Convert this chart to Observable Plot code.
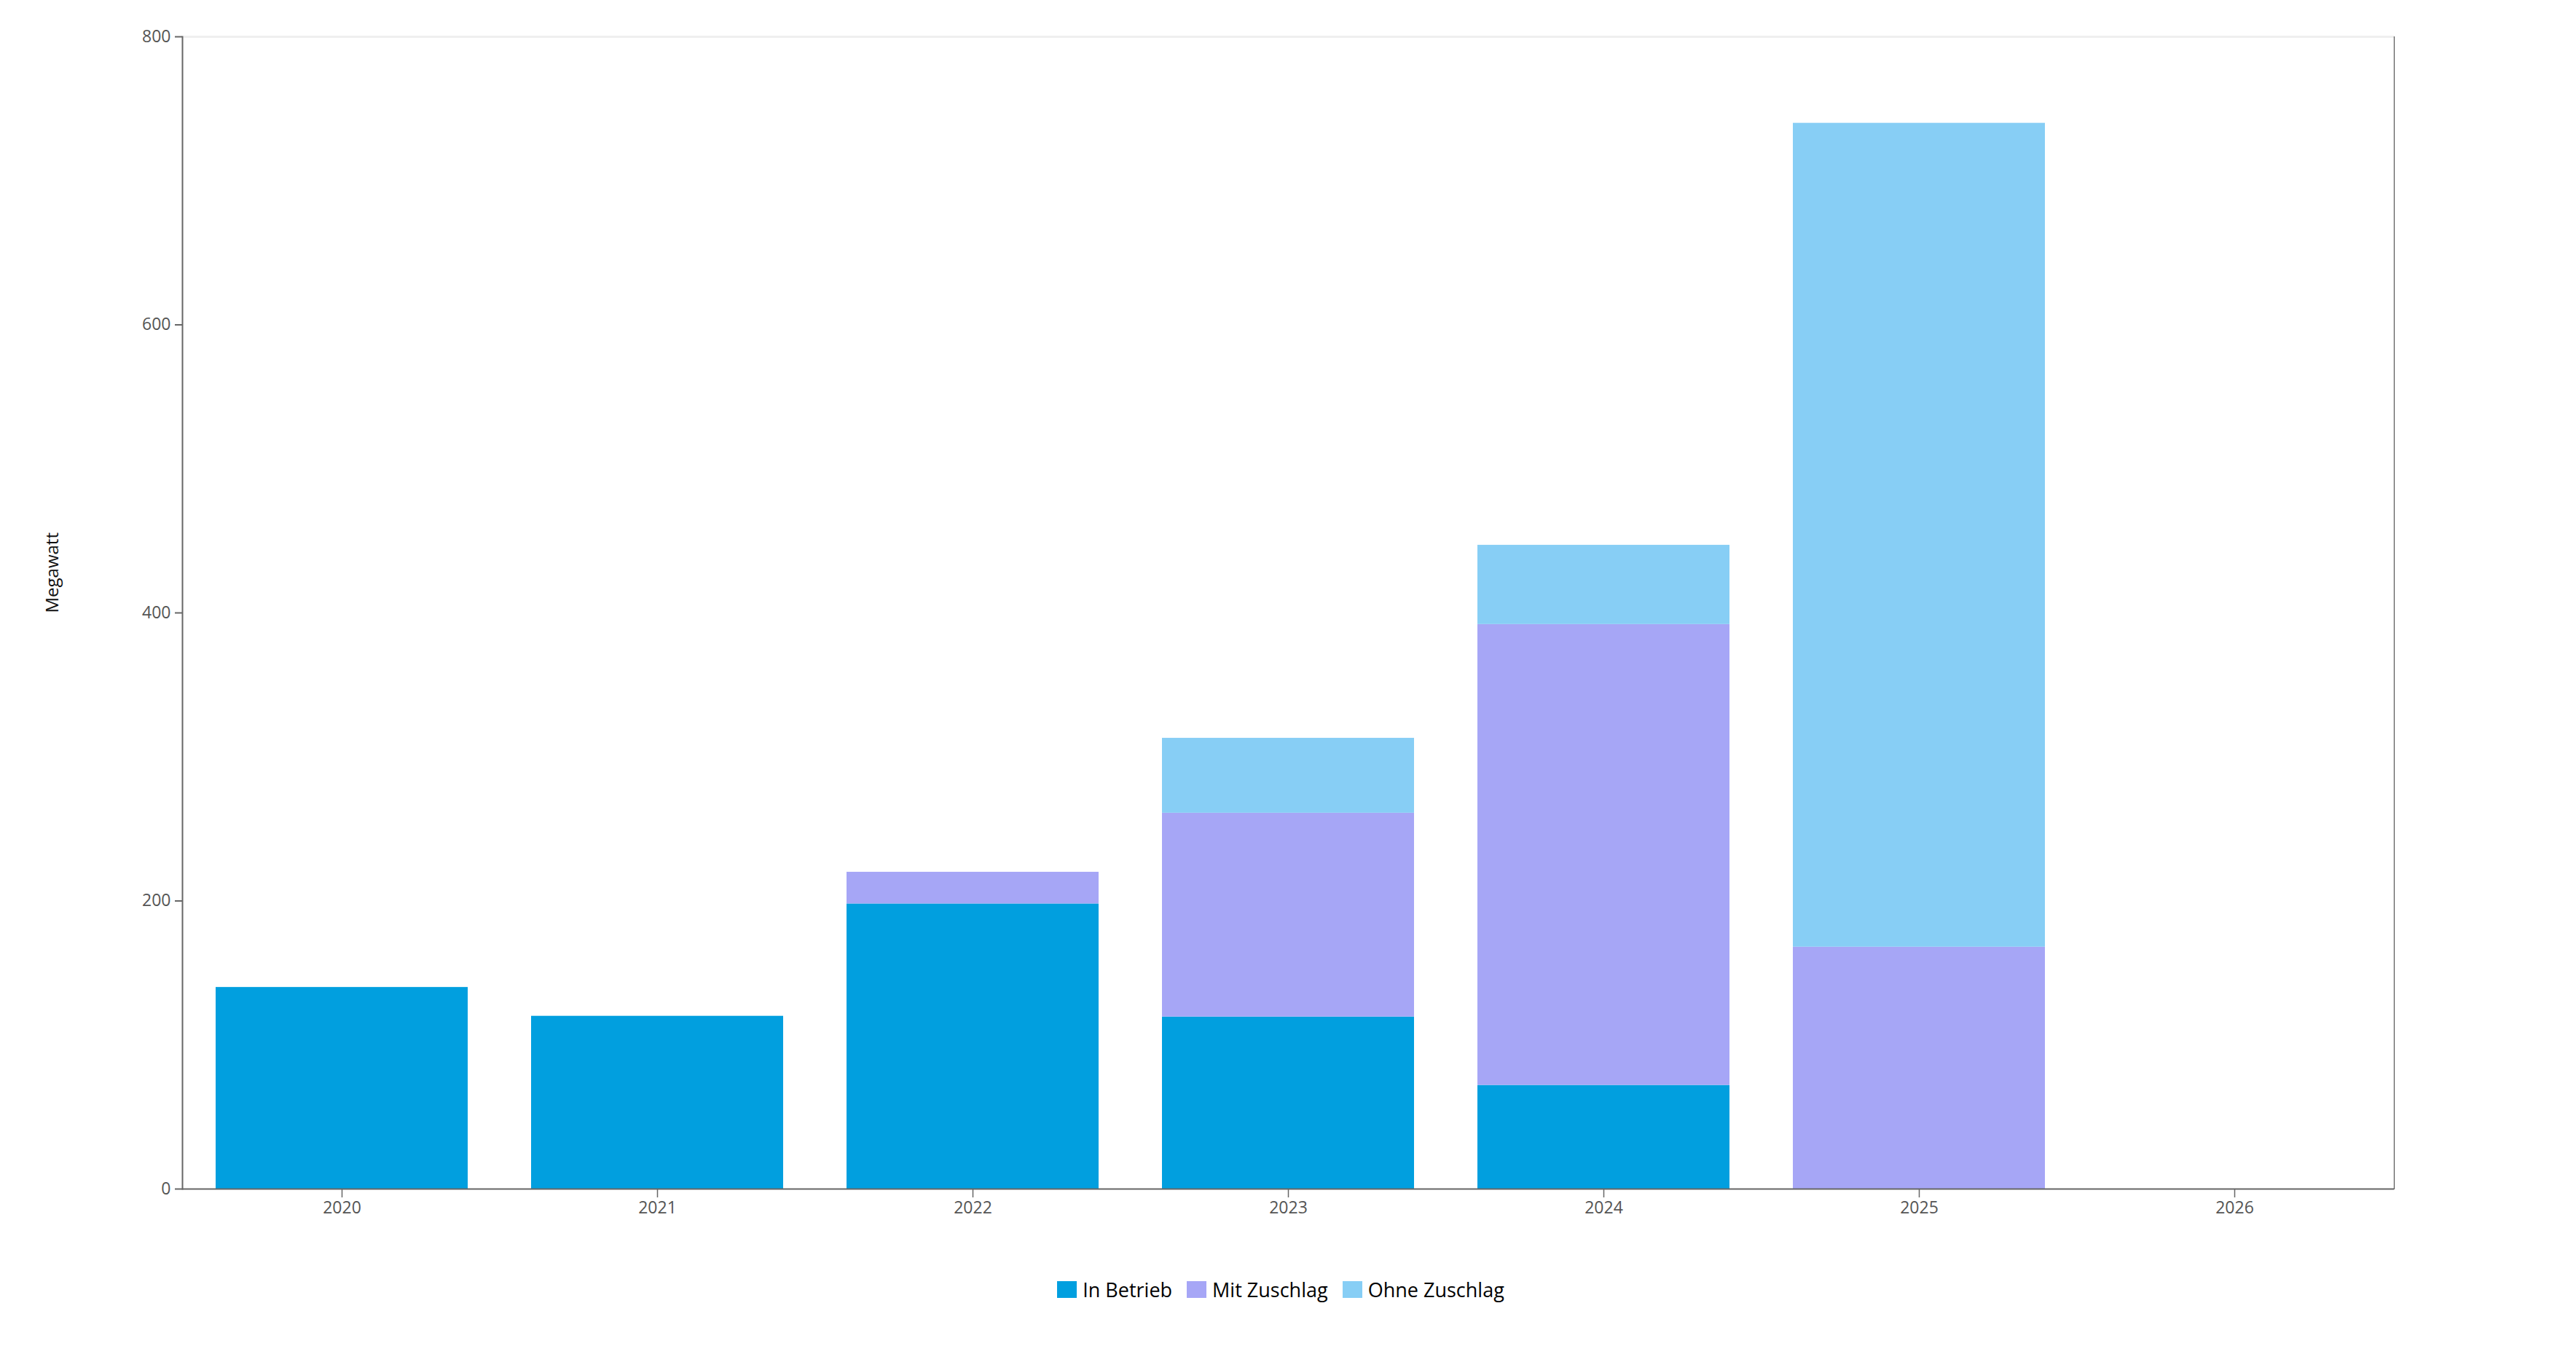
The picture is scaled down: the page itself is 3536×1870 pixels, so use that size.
<!DOCTYPE html>
<html>
<head>
<meta charset="utf-8">
<script src="https://cdn.jsdelivr.net/npm/d3@7"></script>
<script src="https://cdn.jsdelivr.net/npm/@observablehq/plot@0.6"></script>
<style>
  html, body { margin: 0; padding: 0; background: #fff; }
  #wrap { position: relative; width: 3536px; height: 1870px; font-family: "Segoe UI", "Open Sans", sans-serif; }
  #legend { position: absolute; left: 0; top: 1752px; width: 3536px; display: flex; justify-content: center; }
  .lg-swatches-wrap { justify-content: center; }
  .lg-swatch { margin-right: 20px !important; font-size: 27px; color: #000; font-weight: 400; }
  .lg-swatch > svg { margin-right: 8px !important; }
</style>
</head>
<body>
<div id="wrap"><div id="chart"></div><div id="legend"></div></div>
<script>
const years = ["2020", "2021", "2022", "2023", "2024", "2025", "2026"];
const seriesNames = ["In Betrieb", "Mit Zuschlag", "Ohne Zuschlag"];
const seriesColors = ["#019fdf", "#a6a6f6", "#87cef5"];
const inBetrieb    = [140, 120, 198, 119.5, 72, 0, 0];
const mitZuschlag  = [0, 0, 22, 141.5, 320, 168, 0];
const ohneZuschlag = [0, 0, 0, 52, 55, 572, 0];
const yTicks = [0, 200, 400, 600, 800];
const yLabel = "Megawatt";

const seriesValues = [inBetrieb, mitZuschlag, ohneZuschlag];
const data = [];
years.forEach((yr, i) => {
  seriesNames.forEach((s, j) => {
    data.push({year: yr, series: s, value: seriesValues[j][i]});
  });
});

const font = "'Segoe UI', 'Open Sans', sans-serif";

const plot = Plot.plot({
  width: 3536,
  height: 1700,
  marginLeft: 250,
  marginRight: 250,
  marginTop: 50,
  marginBottom: 68,
  style: {fontFamily: font, background: "#fff"},
  x: {domain: years, paddingInner: 0.2, paddingOuter: 0.1, label: null},
  y: {domain: [0, 800], label: null},
  color: {domain: seriesNames, range: seriesColors},
  marks: [
    Plot.ruleY([800], {stroke: "#efefef", strokeWidth: 3}),
    Plot.barY(data, {x: "year", y: "value", fill: "series"}),
    Plot.frame({anchor: "left", stroke: "#666", strokeWidth: 2}),
    Plot.frame({anchor: "right", stroke: "#555", strokeWidth: 1.2}),
    Plot.ruleY([0], {stroke: "#666", strokeWidth: 2}),
    Plot.axisY({ticks: yTicks, tickSize: 10, tickPadding: 6, fontSize: 23, color: "#555", stroke: "#666", strokeWidth: 2, label: null, tickFormat: d => String(d)}),
    Plot.axisX({tickSize: 12, tickPadding: 5, fontSize: 23, color: "#555", stroke: "#666", strokeWidth: 1.5, label: null}),
    Plot.text([yLabel], {frameAnchor: "left", rotate: -90, dx: -178, fontSize: 24, fontWeight: "normal", fill: "#111"})
  ]
});
document.getElementById("chart").appendChild(plot);

const leg = plot.legend("color", {
  className: "lg",
  swatchWidth: 27,
  swatchHeight: 23,
  style: {fontSize: "27px", fontFamily: font, color: "#000"}
});
document.getElementById("legend").appendChild(leg);
</script>
</body>
</html>
